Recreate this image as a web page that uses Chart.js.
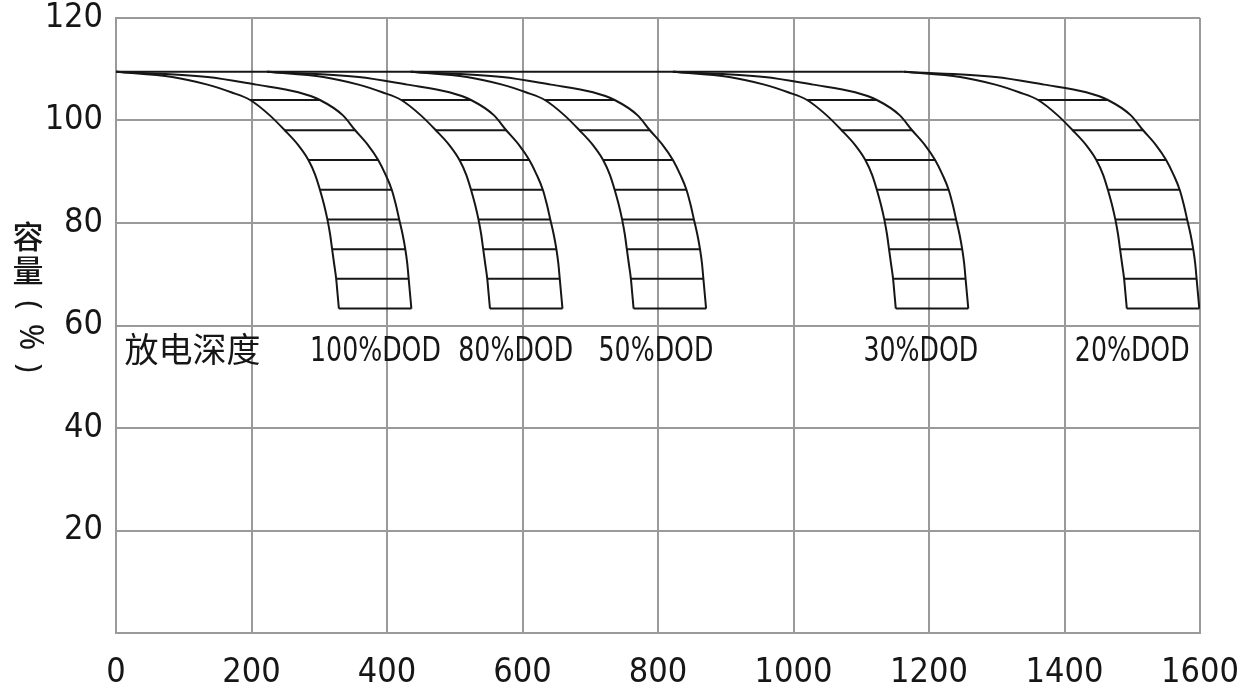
<!DOCTYPE html>
<html>
<head>
<meta charset="utf-8">
<script src="https://cdn.jsdelivr.net/npm/chart.js@4"></script>
<style>
  body { margin: 0; background: #fff; }
  #wrap { width: 1249px; height: 690px; position: relative; }
</style>
</head>
<body>
<div id="wrap"><canvas id="myChart"></canvas></div>
<script>
// capacity levels (%) where the curves were read
const capLevels = [109.5, 108.5, 107, 105.5, 104, 101, 98.1, 95.2, 92.3, 89.4, 86.5, 83.6, 80.7, 77.8, 74.9, 72, 69.1, 66.2, 63.3];
// levels that carry a hatch line between the two curves
const hatchLevels = [104, 98.1, 92.3, 86.5, 80.7, 74.9, 69.1, 63.3];

const dodNames = ['100%DOD', '80%DOD', '50%DOD', '30%DOD', '20%DOD'];

// cycle count of the lower (left) curve at each capacity level
const cyclesLow = [
  [0, 83, 135, 170, 198, 227, 249, 269, 284, 294, 301, 307, 312, 316, 319, 322, 325, 327, 329],
  [223, 306, 358, 393, 421, 450, 472, 492, 507, 517, 524, 530, 535, 539, 542, 545, 548, 550, 552],
  [435, 518, 570, 605, 633, 662, 684, 704, 719, 729, 736, 742, 747, 751, 754, 757, 760, 762, 764],
  [822, 905, 957, 992, 1020, 1049, 1071, 1091, 1106, 1116, 1123, 1129, 1134, 1138, 1141, 1144, 1147, 1149, 1151],
  [1163, 1246, 1298, 1333, 1361, 1390, 1412, 1432, 1447, 1457, 1464, 1470, 1475, 1479, 1482, 1485, 1488, 1490, 1492]
];

// cycle count of the upper (right) curve at each capacity level
const cyclesHigh = [
  [0, 135, 207, 269, 301, 335, 353, 372, 387, 398, 407, 413, 418, 423, 427, 430, 432, 434, 436],
  [223, 358, 430, 492, 524, 558, 576, 595, 610, 621, 630, 636, 641, 646, 650, 653, 655, 657, 659],
  [435, 570, 642, 704, 736, 770, 788, 807, 822, 833, 842, 848, 853, 858, 862, 865, 867, 869, 871],
  [822, 957, 1029, 1091, 1123, 1157, 1175, 1194, 1209, 1220, 1229, 1235, 1240, 1245, 1249, 1252, 1254, 1256, 1258],
  [1163, 1298, 1370, 1432, 1464, 1498, 1516, 1535, 1550, 1561, 1570, 1576, 1581, 1586, 1590, 1593, 1595, 1597, 1599]
];

// the flat start line at full capacity
const topLineCycles = [0, 1163];

// where the DOD captions sit (cycles), and their capacity height
const captionX = [383, 590, 797, 1188, 1500];
const captionTitle = '放电深度';
const captionTitleX = 113;
const captionY = 55.4;

const xTicks = [0, 200, 400, 600, 800, 1000, 1200, 1400, 1600];
const yTicks = [0, 20, 40, 60, 80, 100, 120];

const numFont = "'Liberation Sans Narrow', 'DejaVu Sans Condensed', 'Liberation Sans', sans-serif";
const cjkFont = "'Noto Sans CJK SC', sans-serif";
const ink = '#161616';
const gridGray = '#9a9a9a';

let datasets = [];

datasets.push({
  data: topLineCycles.map(x => ({x: x, y: capLevels[0]}))
});

for (let d = 0; d < dodNames.length; d++) {
  datasets.push({ data: cyclesLow[d].map((x, i) => ({x: x, y: capLevels[i]})), cubicInterpolationMode: 'monotone' });
  datasets.push({ data: cyclesHigh[d].map((x, i) => ({x: x, y: capLevels[i]})), cubicInterpolationMode: 'monotone' });
  // hatch: one short segment per level, broken by gaps
  let hatch = [];
  hatchLevels.forEach(lv => {
    const i = capLevels.indexOf(lv);
    hatch.push({x: cyclesLow[d][i], y: lv});
    hatch.push({x: cyclesHigh[d][i], y: lv});
    hatch.push({x: cyclesHigh[d][i] + 0.5, y: null});
  });
  datasets.push({ data: hatch });
}

datasets.forEach(ds => {
  ds.showLine = true;
  ds.borderColor = ink;
  ds.borderWidth = 2;
  ds.pointRadius = 0;
  ds.spanGaps = false;
});

const captionPlugin = {
  id: 'captions',
  afterDatasetsDraw(chart) {
    const ctx = chart.ctx;
    const xs = chart.scales.x, ys = chart.scales.y;
    const cy = ys.getPixelForValue(captionY);
    ctx.save();
    ctx.fillStyle = ink;
    ctx.textAlign = 'center';
    ctx.textBaseline = 'middle';
    ctx.font = '34px ' + cjkFont;
    ctx.fillText(captionTitle, xs.getPixelForValue(captionTitleX), cy);
    ctx.font = '33px ' + numFont;
    dodNames.forEach((name, i) => {
      ctx.save();
      ctx.translate(xs.getPixelForValue(captionX[i]), cy + 3);
      ctx.scale(0.85, 1);
      ctx.fillText(name, 0, 0);
      ctx.restore();
    });

    // y axis title, written vertically
    ctx.font = '500 31px ' + cjkFont;
    ctx.fillText('容', 28, 236);
    ctx.fillText('量', 28, 270);
    const rot = [['(', 305, 30], ['%', 337, 32], [')', 368, 30]];
    rot.forEach(r => {
      ctx.save();
      ctx.translate(29, r[1]);
      ctx.rotate(Math.PI / 2);
      ctx.font = r[2] + "px 'Noto Sans', sans-serif";
      ctx.fillText(r[0], 0, 0);
      ctx.restore();
    });
    ctx.restore();
  }
};

function noPad(s) {
  s.paddingTop = 0; s.paddingBottom = 0; s.paddingLeft = 0; s.paddingRight = 0;
}

new Chart('myChart', {
  type: 'scatter',
  data: { datasets: datasets },
  plugins: [captionPlugin],
  options: {
    responsive: true,
    maintainAspectRatio: false,
    animation: false,
    layout: { padding: { left: 0, right: 49, top: 18, bottom: 0 } },
    plugins: { legend: { display: false }, tooltip: { enabled: false } },
    scales: {
      x: {
        type: 'linear',
        min: 0, max: 1600,
        afterBuildTicks: s => { s.ticks = xTicks.map(v => ({value: v})); },
        afterFit: s => { s.height = 57; noPad(s); },
        grid: { color: gridGray, lineWidth: 2, drawTicks: false },
        border: { color: gridGray, width: 2 },
        ticks: {
          padding: 20, color: ink, font: { family: numFont, size: 34 }, maxRotation: 0, autoSkip: false,
          callback: v => String(v)
        }
      },
      y: {
        min: 0, max: 120,
        afterBuildTicks: s => { s.ticks = yTicks.map(v => ({value: v})); },
        afterFit: s => { s.width = 116; noPad(s); },
        grid: { color: gridGray, lineWidth: 2, drawTicks: false },
        border: { color: gridGray, width: 2 },
        ticks: {
          padding: 13, color: ink, font: { family: numFont, size: 34 },
          callback: v => v === 0 ? '' : String(v)
        }
      }
    }
  }
});
</script>
</body>
</html>
